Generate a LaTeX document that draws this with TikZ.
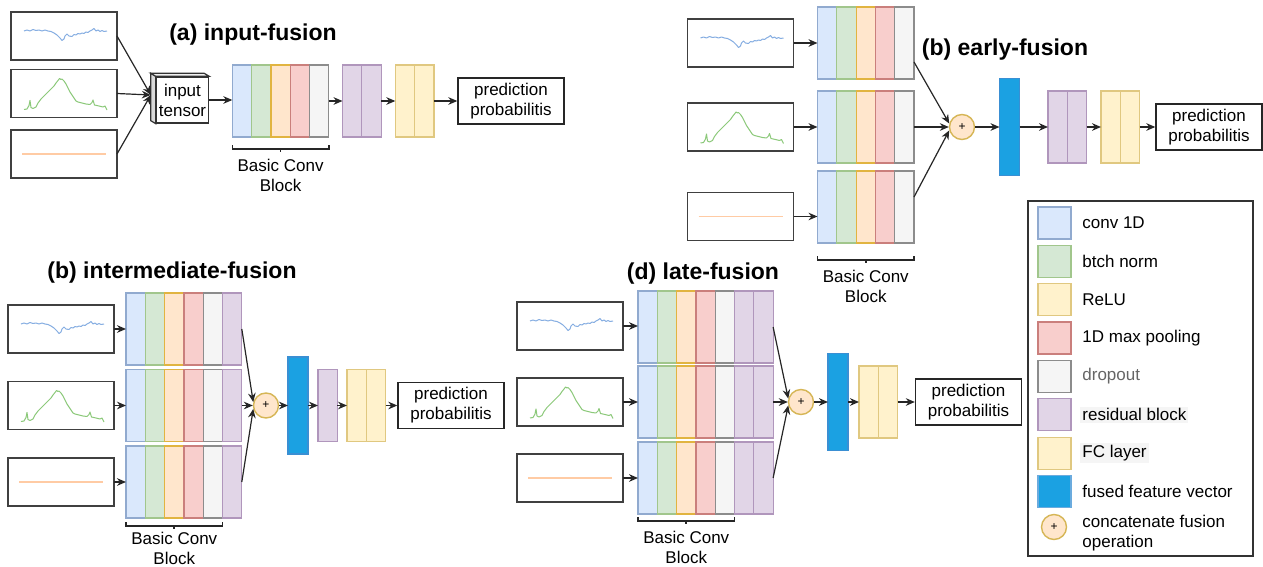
\documentclass[tikz,border=0pt]{standalone}
\usepackage{fontspec}
\setmainfont{Liberation Sans}
\usetikzlibrary{calc,arrows.meta}

\definecolor{convF}{HTML}{DAE8FC}\definecolor{convD}{HTML}{6C8EBF}
\definecolor{normF}{HTML}{D5E8D4}\definecolor{normD}{HTML}{82B366}
\definecolor{reluF}{HTML}{FFE6CC}\definecolor{reluD}{HTML}{D79B00}
\definecolor{poolF}{HTML}{F8CECC}\definecolor{poolD}{HTML}{B85450}
\definecolor{dropF}{HTML}{F5F5F5}\definecolor{dropD}{HTML}{666666}
\definecolor{resF}{HTML}{E1D5E7}\definecolor{resD}{HTML}{9673A6}
\definecolor{fcF}{HTML}{FFF2CC}\definecolor{fcD}{HTML}{D6B656}
\definecolor{fuseF}{HTML}{1BA1E2}\definecolor{fuseD}{HTML}{3A8FD3}
\definecolor{waveB}{HTML}{86AEE2}
\definecolor{waveG}{HTML}{8CC97A}
\definecolor{waveO}{HTML}{FFCBA4}

% signals drawn inside the input boxes
\tikzset{
  pics/wavea/.style={code={
    \draw[waveB, line width=0.5pt, line join=round] plot coordinates {(-40,-5) (-37,-6) (-34,-5) (-31,-6.5) (-28,-5.5) (-25,-6) (-22,-5) (-19,-6) (-16,-5) (-13,-4.5) (-10,-3) (-7,-1) (-4,2) (-2,4.5) (0,3) (1,0) (3,-2) (5,0) (8,0.5) (10,-1.5) (12,-1) (14,-2.5) (16,-2) (18,-3) (20,-2.5) (22,-4) (24,-3.5) (26,-5) (28,-6) (30,-7.5) (32,-5) (34,-6) (36,-4.5) (38,-5.5) (40,-4.5) (43,-5)};}},
  pics/waveb/.style={code={
    \draw[waveG, line width=0.5pt, line join=round] plot coordinates {(-40,16) (-37,15.5) (-35,12) (-34,7) (-33,14) (-31,15) (-28,13.5) (-26,9.5) (-23,5.5) (-20,2.5) (-17,-0.5) (-14,-3.5) (-12,-5.5) (-10,-7.5) (-8,-10.5) (-6,-13) (-4.5,-15) (-3,-14) (-2,-14.5) (0,-12.5) (2,-9.5) (4,-5.5) (6,-1.5) (8,1.5) (10,4.5) (12,7.5) (14,8.5) (18,9.5) (22,10.5) (26,11) (28,9) (29,6.5) (30.5,11.5) (35,12.5) (39,13.5) (41,12.5) (43,16.5)};}},
  pics/wavec/.style={code={
    \draw[waveO, line width=0.6pt] (-42,0) -- (42,0);}}
}

% a row of coloured layers: name, left x, centre y, layer list
\newcommand{\layerstack}[4]{%
  \foreach \lay [count=\i] in {#4}
    \node[layer, fill=\lay F, draw=\lay D!75] (#1\i) at ({#2+(\i-0.5)*19.3},#3) {};}

\begin{document}
\begin{tikzpicture}[x=0.5pt, y=-0.5pt, >={Stealth[length=4.5pt,width=3.8pt]},
  font=\fontsize{8.5}{10}\selectfont,
  layer/.style={rectangle, inner sep=0pt, outer sep=0pt, minimum width=9.65pt, minimum height=36pt, line width=0.6pt},
  sig/.style={rectangle, draw=black!75, line width=0.8pt, inner sep=0pt, outer sep=0pt, minimum width=53pt, minimum height=24pt},
  pred/.style={rectangle, draw=black!85, line width=0.7pt, align=center, inner sep=0pt, minimum width=53pt, minimum height=23pt},
  fused/.style={rectangle, fill=fuseF, draw=fuseD, line width=0.6pt, inner sep=0pt, outer sep=0pt, minimum width=10pt, minimum height=48.5pt},
  plus/.style={circle, fill=reluF, draw=fcD, line width=0.7pt, inner sep=0pt, minimum size=12.5pt, font=\fontsize{6}{6}\selectfont},
  ttl/.style={font=\fontsize{11.5}{14}\selectfont\bfseries},
  lbl/.style={align=center, inner sep=0pt, anchor=north},
  con/.style={->, line width=0.6pt, draw=black!85},
  brk/.style={line width=0.8pt, draw=black!85},
  key/.style={rectangle, inner sep=0pt, line width=0.6pt, minimum width=16.5pt, minimum height=16pt}]

\fill[white] (0,0) rectangle (1263,567);
\useasboundingbox (0,0) rectangle (1263,567);

% (a) input-fusion
\node[ttl] (ta) at (253,35) {(a) input-fusion};
\node[sig] (sa1) at (64,36) {}; \pic at (sa1) {wavea};
\node[sig] (sa2) at (64,93.5) {}; \pic at (sa2) {waveb};
\node[sig] (sa3) at (64,154) {}; \pic at (sa3) {wavec};
\node[draw=black!80, line width=0.7pt, fill=white, align=center, inner sep=0pt, minimum width=26pt, minimum height=23pt] (tensor) at (182.5,100) {input\\tensor};
\filldraw[fill=black!15, draw=black!80, line width=0.6pt] (tensor.north west) -- ++(-5,-3) -- ($(tensor.south west)+(-5,-3)$) -- (tensor.south west) -- cycle;
\filldraw[fill=black!6, draw=black!80, line width=0.6pt] (tensor.north west) -- ++(-5,-3) -- ($(tensor.north east)+(-5,-3)$) -- (tensor.north east) -- cycle;
\coordinate (tin) at ($(tensor.west)+(-5,-5)$);
\draw[con] (sa1.east) -- (tin);
\draw[con] (sa2.east) -- (tin);
\draw[con] (sa3.east) -- (tin);
\layerstack{ac}{232.3}{101}{conv,norm,relu,pool,drop}
\layerstack{ar}{342.5}{101}{res,res}
\layerstack{af}{395.3}{101}{fc,fc}
\node[pred] (ap) at (511,101) {prediction\\probabilitis};
\draw[con] (tensor.east) -- (tensor.east -| ac1.west);
\draw[con] (ac5.east) -- (ar1.west);
\draw[con] (ar2.east) -- (af1.west);
\draw[con] (af2.east) -- (ap.west);
\draw[brk] ($(ac1.south west)+(0,8)$) -- ++(0,4) -- ($(ac5.south east)+(0,12)$) -- ++(0,-4);
\draw[brk] ($(ac3.south)+(0,12)$) -- ++(0,3);
\node[lbl] (ba) at ($(ac3.south)+(0,22)$) {Basic Conv\\Block};

% (b) early-fusion
\node[ttl] (tb) at (1005,50) {(b) early-fusion};
\node[sig] (sb1) at (740.5,43) {}; \pic at (sb1) {wavea};
\node[sig] (sb2) at (740.5,127) {}; \pic at (sb2) {waveb};
\node[sig] (sb3) at (740.5,216.5) {}; \pic at (sb3) {wavec};
\layerstack{bu}{817.5}{43}{conv,norm,relu,pool,drop}
\layerstack{bm}{817.5}{127}{conv,norm,relu,pool,drop}
\layerstack{bl}{817.5}{207}{conv,norm,relu,pool,drop}
\draw[con] (sb1.east) -- (bu1.west);
\draw[con] (sb2.east) -- (bm1.west);
\draw[con] (sb3.east) -- (sb3.east -| bl1.west);
\node[plus] (bplus) at (962,127) {+};
\draw[con] ($(bu5.east)+(0,19)$) -- (bplus.165);
\draw[con] (bm5.east) -- (bplus.west);
\draw[con] ($(bl5.east)+(0,-10)$) -- (bplus.195);
\node[fused] (bfuse) at (1009.5,127) {};
\layerstack{br}{1048}{127}{res,res}
\layerstack{bf}{1101}{127}{fc,fc}
\node[pred] (bp) at (1209,127) {prediction\\probabilitis};
\draw[con] (bplus.east) -- (bfuse.west);
\draw[con] (bfuse.east) -- (br1.west);
\draw[con] (br2.east) -- (bf1.west);
\draw[con] (bf2.east) -- (bp.west);
\draw[brk] ($(bl1.south west)+(0,13)$) -- ++(0,4) -- ($(bl5.south east)+(0,17)$) -- ++(0,-4);
\draw[brk] ($(bl3.south)+(0,17)$) -- ++(0,3);
\node[lbl] (bb) at ($(bl3.south)+(0,27)$) {Basic Conv\\Block};

% (b) intermediate-fusion
\node[ttl] (tc) at (172,273) {(b) intermediate-fusion};
\node[sig] (sc1) at (61,329) {}; \pic at (sc1) {wavea};
\node[sig] (sc2) at (61,405.5) {}; \pic at (sc2) {waveb};
\node[sig] (sc3) at (61,482) {}; \pic at (sc3) {wavec};
\layerstack{cu}{126}{329}{conv,norm,relu,pool,drop,res}
\layerstack{cm}{126}{405.5}{conv,norm,relu,pool,drop,res}
\layerstack{cl}{126}{482}{conv,norm,relu,pool,drop,res}
\draw[con] (sc1.east) -- (cu1.west);
\draw[con] (sc2.east) -- (cm1.west);
\draw[con] (sc3.east) -- (cl1.west);
\node[plus] (cplus) at (266,405.5) {+};
\draw[con] (cu6.east) -- (cplus.165);
\draw[con] (cm6.east) -- (cplus.west);
\draw[con] (cl6.east) -- (cplus.195);
\node[fused] (cfuse) at (298,405.5) {};
\layerstack{cr}{318}{405.5}{res}
\layerstack{cf}{347}{405.5}{fc,fc}
\node[pred] (cp) at (451,405.5) {prediction\\probabilitis};
\draw[con] (cplus.east) -- (cfuse.west);
\draw[con] (cfuse.east) -- (cr1.west);
\draw[con] (cr1.east) -- (cf1.west);
\draw[con] (cf2.east) -- (cp.west);
\draw[brk] ($(cl1.south west)+(0,4)$) -- ++(0,4) -- ($(cl5.south east)+(0,8)$) -- ++(0,-4);
\draw[brk] ($(cl3.south)+(0,8)$) -- ++(0,3);
\node[lbl] (bc) at ($(cl3.south)+(0,14)$) {Basic Conv\\Block};

% (d) late-fusion
\node[ttl] (td) at (703,274) {(d) late-fusion};
\node[sig] (sd1) at (570,326) {}; \pic at (sd1) {wavea};
\node[sig] (sd2) at (570,402) {}; \pic at (sd2) {waveb};
\node[sig] (sd3) at (570,478) {}; \pic at (sd3) {wavec};
\layerstack{du}{638}{327}{conv,norm,relu,pool,drop,res,res}
\layerstack{dm}{638}{402}{conv,norm,relu,pool,drop,res,res}
\layerstack{dl}{638}{478}{conv,norm,relu,pool,drop,res,res}
\draw[con] (sd1.east) -- (sd1.east -| du1.west);
\draw[con] (sd2.east) -- (dm1.west);
\draw[con] (sd3.east) -- (dl1.west);
\node[plus] (dplus) at (801,402) {+};
\draw[con] (du7.east) -- (dplus.165);
\draw[con] (dm7.east) -- (dplus.west);
\draw[con] (dl7.east) -- (dplus.195);
\node[fused] (dfuse) at (838,402) {};
\layerstack{df}{859}{402}{fc,fc}
\node[pred] (dp) at (968.5,402) {prediction\\probabilitis};
\draw[con] (dplus.east) -- (dfuse.west);
\draw[con] (dfuse.east) -- (df1.west);
\draw[con] (df2.east) -- (dp.west);
\draw[brk] ($(dl1.south west)+(0,3)$) -- ++(0,4) -- ($(dl5.south east)+(0,7)$) -- ++(0,-4);
\draw[brk] ($(dl3.south)+(0,7)$) -- ++(0,3);
\node[lbl] (bd) at ($(dl3.south)+(0,16.5)$) {Basic Conv\\Block};

% legend
\draw[black!80, line width=0.7pt] (1028,201) rectangle (1253,556);
\foreach \f/\d/\b/\t [count=\i] in {convF/convD/white/conv 1D, normF/normD/white/btch norm, fcF/fcD/white/ReLU, poolF/poolD/white/1D max pooling, dropF/dropD/white/{\color{black!60}dropout}, resF/resD/black!4/residual block, fcF/fcD/black!4/FC layer, fuseF/fuseD/white/fused feature vector} {
  \node[key, fill=\f, draw=\d!75] (k\i) at (1054.5,{223+(\i-1)*38.36}) {};
  \node[anchor=west, fill=\b, inner sep=1pt] (kt\i) at (1080,{223+(\i-1)*38.36}) {\t};
}
\node[plus] (kplus) at (1054,527) {+};
\node[anchor=west, align=left, inner sep=1pt] (kt9) at (1080,533) {concatenate fusion\\operation};
\end{tikzpicture}
\end{document}
